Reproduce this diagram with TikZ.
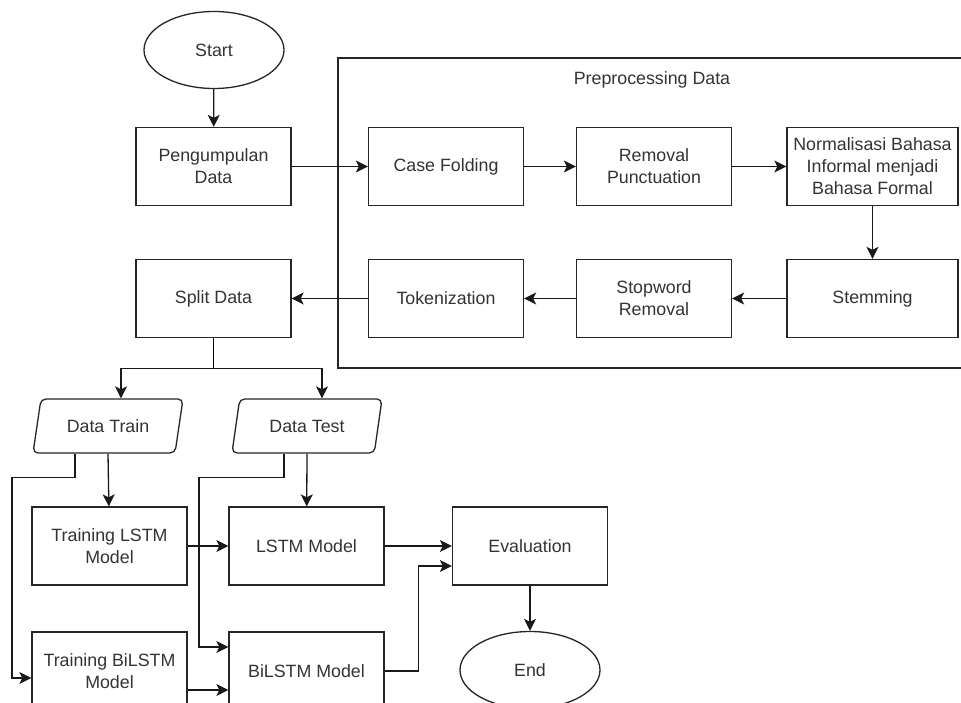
\documentclass[tikz,border=0pt]{standalone}
\usepackage{fontspec}
\setmainfont{Liberation Sans}
\usepackage{tikz}
\usetikzlibrary{positioning, arrows.meta, calc, shapes.geometric}

\begin{document}
\begin{tikzpicture}[
  x=1pt, y=-1pt,
  line width=1.3pt,
  every node/.style={text=black!80, font=\fontsize{17.8}{22}\selectfont},
  block/.style={rectangle, draw=black!85, minimum height=78pt, minimum width=155pt,
                align=center, inner sep=2pt},
  wideblock/.style={block, minimum width=171pt},
  term/.style={ellipse, draw=black!85, minimum height=77pt, minimum width=140pt},
  data/.style={trapezium, trapezium left angle=68, trapezium right angle=112,
               trapezium stretches body, draw=black!85, rounded corners=5pt,
               minimum height=54pt, minimum width=150pt},
  arrow/.style={-{Stealth[length=12pt, width=12pt, inset=3pt]}, draw=black!90},
]
\useasboundingbox (0,0) rectangle (961,703);

\draw[draw=black!85] (975,58) -- (338,58) -- (338,368) -- (975,368);
\node at (652, 80) (pre) {Preprocessing Data};

\node[term] at (214, 50) (start) {Start};
\node[block] at (213.5, 166.5) (peng) {Pengumpulan\\Data};
\node[block] at (213.5, 298.5) (split) {Split Data};

\node[block] at (446, 166.5) (casefold) {Case Folding};
\node[block] at (654, 166.5) (removal) {Removal\\Punctuation};
\node[wideblock] at (872.5, 166.5) (norm) {Normalisasi Bahasa\\Informal menjadi\\Bahasa Formal};
\node[wideblock] at (872.5, 298.5) (stem) {Stemming};
\node[block] at (654, 298.5) (stopword) {Stopword\\Removal};
\node[block] at (446, 298.5) (token) {Tokenization};

\node[data] at (108, 426) (train) {Data Train};
\node[data] at (307, 426) (test) {Data Test};

\node[block] at (109.5, 546) (tlstm) {Training LSTM\\Model};
\node[block] at (306.5, 546) (lstm) {LSTM Model};
\node[block] at (530, 546) (eval) {Evaluation};
\node[block] at (109.5, 671) (tbilstm) {Training BiLSTM\\Model};
\node[block] at (306.5, 671) (bilstm) {BiLSTM Model};
\node[term] at (530, 670) (end) {End};

\draw[arrow] (start) -- (peng);
\draw[arrow] (peng) -- (casefold);
\draw[arrow] (casefold) -- (removal);
\draw[arrow] (removal) -- (norm);
\draw[arrow] (norm) -- (stem);
\draw[arrow] (stem) -- (stopword);
\draw[arrow] (stopword) -- (token);
\draw[arrow] (token) -- (split);

\draw (split.south) -- ++(0,30.5) coordinate (fork);
\draw[arrow] (fork) -| ([xshift=13pt]train.north);
\draw[arrow] (fork) -| ([xshift=15pt]test.north);

\draw[arrow] (train.south) -- (tlstm);
\draw[arrow] (test.south) -- (lstm);
\draw[arrow] ([xshift=-33pt]train.south) -- ++(0,24) -- ++(-63,0) |- ($(tbilstm.west)+(0,7)$);
\draw[arrow] ([xshift=-23pt]test.south) -- ++(0,24) -- ++(-85,0) |- ($(bilstm.west)+(0,-24)$);

\draw[arrow] (tlstm) -- (lstm);
\draw[arrow] ($(tbilstm.east)+(0,19)$) -- ($(bilstm.west)+(0,19)$);
\draw[arrow] (lstm) -- (eval);
\draw[arrow] (bilstm.east) -- ++(34,0) |- ($(eval.west)+(0,20)$);
\draw[arrow] (eval) -- (end);
\end{tikzpicture}
\end{document}
